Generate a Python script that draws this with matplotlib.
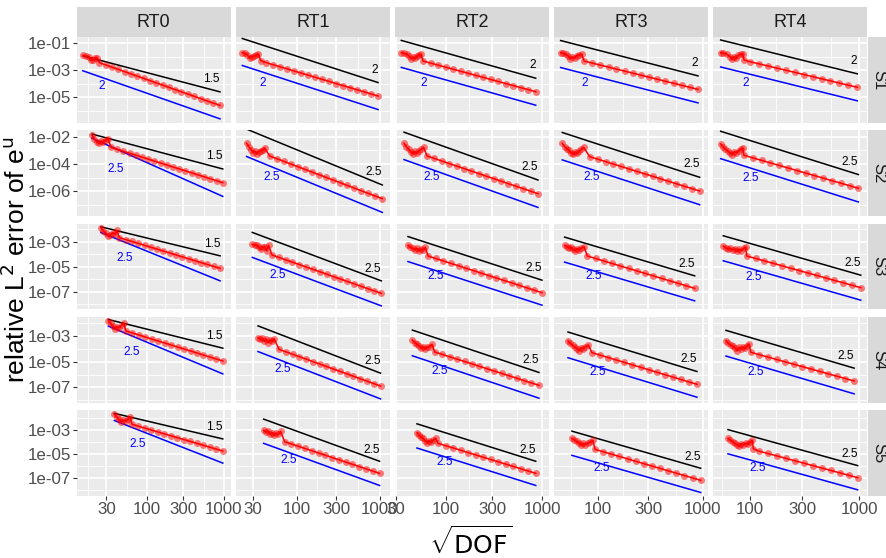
import matplotlib
matplotlib.use("Agg")
import matplotlib.pyplot as plt
import numpy as np
from matplotlib.ticker import FixedLocator, NullFormatter

plt.rcParams["font.family"] = ["Liberation Sans Narrow", "Liberation Sans", "DejaVu Sans"]
plt.rcParams["mathtext.fontset"] = "custom"
plt.rcParams["mathtext.rm"] = "Liberation Sans Narrow"
plt.rcParams["mathtext.it"] = "Liberation Sans Narrow:italic"

columns = ["RT0", "RT1", "RT2", "RT3", "RT4"]
rows = ["S1", "S2", "S3", "S4", "S5"]

# reference slopes (black line / blue line), one value per row
rate_black = {
    "RT0": [1.5, 1.5, 1.5, 1.5, 1.5],
    "RT1": [2, 2.5, 2.5, 2.5, 2.5],
    "RT2": [2, 2.5, 2.5, 2.5, 2.5],
    "RT3": [2, 2.5, 2.5, 2.5, 2.5],
    "RT4": [2, 2.5, 2.5, 2.5, 2.5],
}
rate_blue = {
    "RT0": [2, 2.5, 2.5, 2.5, 2.5],
    "RT1": [2, 2.5, 2.5, 2.5, 2.5],
    "RT2": [2, 2.5, 2.5, 2.5, 2.5],
    "RT3": [2, 2.5, 2.5, 2.5, 2.5],
    "RT4": [2, 2.5, 2.5, 2.5, 2.5],
}

# sqrt(DOF) and relative L2 error, per panel
rt0_s1_x = [14.8, 16.3, 17.6, 18.7, 19.9, 21.1, 22.6, 24.3, 29.3, 35.4, 42.8, 51.7, 62.5, 75.5,
            91.2, 110, 133, 161, 194, 235, 283, 342, 414, 500, 604, 729, 895]
rt0_s1_y = [1.22e-2, 1.09e-2, 9.2e-3, 5.2e-3, 5.5e-3, 8.2e-3, 7.7e-3, 3.5e-3, 2.39e-3, 1.63e-3,
            1.11e-3, 7.58e-4, 5.17e-4, 3.53e-4, 2.41e-4, 1.64e-4, 1.12e-4, 7.63e-5, 5.2e-5,
            3.55e-5, 2.42e-5, 1.65e-5, 1.13e-5, 7.69e-6, 5.24e-6, 3.58e-6, 2.41e-6]
rt0_s2_x = [19.5, 20.9, 22.4, 23.8, 25.5, 27.4, 29.6, 31.5, 34.4, 41.4, 49.9, 60.0, 72.3, 87.0,
            105, 126, 152, 183, 220, 265, 319, 384, 463, 557, 671, 808, 972]
rt0_s2_y = [1.24e-2, 7.06e-3, 4.03e-3, 3.23e-3, 4.52e-3, 4.03e-3, 5.65e-3, 7.06e-3, 1.64e-3,
            1.18e-3, 8.48e-4, 6.10e-4, 4.39e-4, 3.15e-4, 2.27e-4, 1.63e-4, 1.17e-4, 8.43e-5,
            6.06e-5, 4.36e-5, 3.14e-5, 2.26e-5, 1.62e-5, 1.17e-5, 8.39e-6, 6.03e-6, 4.34e-6]
rt0_s3_x = [25.5, 27.4, 29.6, 31.8, 33.7, 36.2, 38.8, 40.8, 44.2, 53.3, 64.4, 77.7, 93.8, 113,
            137, 165, 199, 240, 290, 350, 423, 510, 616, 743, 897]
rt0_s3_y = [1.33e-2, 7.18e-3, 4.67e-3, 2.86e-3, 3.44e-3, 5.28e-3, 3.88e-3, 8.1e-3, 2.10e-3,
            1.48e-3, 1.04e-3, 7.28e-4, 5.12e-4, 3.60e-4, 2.53e-4, 1.78e-4, 1.25e-4, 8.76e-5,
            6.16e-5, 4.33e-5, 3.04e-5, 2.14e-5, 1.50e-5, 1.05e-5, 7.41e-6]
rt0_s4_x = [31.8, 34.0, 36.1, 38.8, 41.1, 44.2, 47.3, 50.2, 53.8, 65.3, 79.2, 96.0, 116, 141,
            171, 208, 252, 306, 371, 450, 546, 662, 803, 974]
rt0_s4_y = [1.47e-2, 9.68e-3, 6.0e-3, 3.72e-3, 5.32e-3, 4.45e-3, 6.76e-3, 9.68e-3, 2.45e-3,
            1.71e-3, 1.20e-3, 8.36e-4, 5.84e-4, 4.08e-4, 2.85e-4, 1.99e-4, 1.39e-4, 9.72e-5,
            6.79e-5, 4.75e-5, 3.32e-5, 2.32e-5, 1.62e-5, 1.13e-5]
rt0_s5_x = [38.0, 40.8, 43.3, 46.4, 49.8, 53.8, 57.8, 60.7, 64.4, 78.2, 94.9, 115, 140, 170,
            206, 250, 304, 369, 448, 544, 660, 801, 973]
rt0_s5_y = [1.89e-2, 1.21e-2, 7.31e-3, 4.4e-3, 6.44e-3, 5.32e-3, 8.3e-3, 1.21e-2, 2.83e-3,
            1.97e-3, 1.37e-3, 9.54e-4, 6.64e-4, 4.62e-4, 3.22e-4, 2.24e-4, 1.56e-4, 1.09e-4,
            7.55e-5, 5.25e-5, 3.66e-5, 2.55e-5, 1.77e-5]

rt1_s1_x = [22.2, 23.9, 25.5, 27.2, 28.8, 30.7, 32.4, 34.6, 36.9, 43.2, 52.4, 63.6, 77.1, 93.5,
            113, 138, 167, 202, 246, 298, 361, 438, 532, 645, 782, 949]
rt1_s1_y = [1.92e-2, 1.71e-2, 1.36e-2, 7.31e-3, 9.7e-3, 1.09e-2, 1.22e-2, 1.62e-2, 4.91e-3,
            3.49e-3, 2.45e-3, 1.71e-3, 1.20e-3, 8.42e-4, 5.90e-4, 4.13e-4, 2.90e-4, 2.03e-4,
            1.42e-4, 9.97e-5, 6.99e-5, 4.90e-5, 3.43e-5, 2.41e-5, 1.69e-5, 1.18e-5]
rt1_s2_x = [25.0, 26.7, 28.5, 30.1, 31.5, 33.0, 34.9, 36.9, 39.0, 41.2, 47.3, 57.5, 69.8, 84.8,
            103, 125, 152, 185, 225, 273, 332, 403, 490, 595, 723, 878, 1067]
rt1_s2_y = [3.22e-3, 1.74e-3, 1.05e-3, 6.72e-4, 8.41e-4, 5.68e-4, 7.95e-4, 9.4e-4, 1.05e-3,
            1.47e-3, 3.84e-4, 2.45e-4, 1.57e-4, 1.00e-4, 6.39e-5, 4.08e-5, 2.61e-5, 1.67e-5,
            1.06e-5, 6.79e-6, 4.34e-6, 2.77e-6, 1.77e-6, 1.13e-6, 7.22e-7, 4.61e-7, 2.95e-7]
rt1_s3_x = [29.3, 31.3, 33.0, 34.9, 36.9, 39.0, 41.2, 43.6, 46.0, 50.5, 61.0, 73.7, 89.0, 108,
            130, 157, 190, 229, 277, 334, 404, 488, 589, 712, 860, 1039]
rt1_s3_y = [6.15e-4, 5.12e-4, 5.44e-4, 3.54e-4, 2.45e-4, 3.77e-4, 4.01e-4, 1.80e-4, 5.12e-4,
            8.63e-5, 5.55e-5, 3.57e-5, 2.29e-5, 1.48e-5, 9.49e-6, 6.10e-6, 3.92e-6, 2.52e-6,
            1.62e-6, 1.04e-6, 6.71e-7, 4.31e-7, 2.77e-7, 1.78e-7, 1.15e-7, 7.37e-8]
rt1_s4_x = [34.3, 36.6, 38.6, 40.8, 43.1, 45.2, 47.8, 50.5, 53.4, 61.3, 73.9, 89.2, 108, 130,
            156, 189, 228, 274, 331, 399, 481, 580, 700, 844, 1018]
rt1_s4_y = [7.41e-4, 5.50e-4, 6.58e-4, 3.84e-4, 5.83e-4, 3.03e-4, 4.89e-4, 3.84e-4, 6.19e-4,
            9.16e-5, 5.91e-5, 3.81e-5, 2.46e-5, 1.59e-5, 1.02e-5, 6.61e-6, 4.26e-6, 2.75e-6,
            1.78e-6, 1.15e-6, 7.39e-7, 4.77e-7, 3.08e-7, 1.98e-7, 1.28e-7]
rt1_s5_x = [40.1, 42.8, 45.6, 48.2, 50.9, 53.8, 56.9, 60.1, 64.1, 71.7, 86.5, 104, 126, 152,
            183, 221, 267, 322, 388, 468, 565, 681, 822, 991]
rt1_s5_y = [9.04e-4, 6.58e-4, 7.46e-4, 4.22e-4, 5.79e-4, 3.49e-4, 5.11e-4, 4.22e-4, 7.46e-4,
            1.04e-4, 6.76e-5, 4.40e-5, 2.86e-5, 1.86e-5, 1.21e-5, 7.86e-6, 5.11e-6, 3.32e-6,
            2.16e-6, 1.41e-6, 9.13e-7, 5.94e-7, 3.86e-7, 2.51e-7]

rt2_s1_x = [34.0, 36.3, 38.7, 40.9, 42.9, 45.0, 47.2, 49.5, 51.9, 54.5, 57.2, 68.5, 82.0, 98.2,
            118, 141, 169, 202, 242, 290, 347, 415, 498, 596, 713, 854]
rt2_s1_y = [1.92e-2, 1.71e-2, 1.53e-2, 1.09e-2, 6.9e-3, 8.67e-3, 7.31e-3, 1.09e-2, 1.36e-2,
            1.45e-2, 4.63e-3, 3.27e-3, 2.30e-3, 1.63e-3, 1.15e-3, 8.09e-4, 5.71e-4, 4.03e-4,
            2.84e-4, 2.01e-4, 1.41e-4, 9.98e-5, 7.04e-5, 4.97e-5, 3.50e-5, 2.47e-5]
rt2_s2_x = [36.3, 38.3, 40.6, 42.9, 45.0, 46.8, 49.1, 51.5, 54.5, 58.1, 63.0, 75.2, 89.8, 107,
            128, 153, 183, 218, 260, 311, 371, 443, 529, 632, 755, 901]
rt2_s2_y = [3.22e-3, 1.84e-3, 1.17e-3, 7.51e-4, 5.37e-4, 8.41e-4, 6.01e-4, 8.89e-4, 1.17e-3,
            1.64e-3, 3.84e-4, 2.52e-4, 1.65e-4, 1.08e-4, 7.09e-5, 4.65e-5, 3.05e-5, 2.00e-5,
            1.31e-5, 8.58e-6, 5.62e-6, 3.69e-6, 2.42e-6, 1.58e-6, 1.04e-6, 6.81e-7]
rt2_s3_x = [39.9, 42.2, 44.6, 47.2, 49.5, 51.9, 54.5, 57.2, 60.5, 64.5, 77.4, 92.9, 111, 134,
            160, 193, 231, 277, 333, 399, 479, 575, 690, 828, 993]
rt2_s3_y = [5.12e-4, 3.54e-4, 2.94e-4, 2.30e-4, 2.94e-4, 1.80e-4, 2.45e-4, 2.17e-4, 3.54e-4,
            7.18e-5, 4.58e-5, 2.92e-5, 1.86e-5, 1.18e-5, 7.55e-6, 4.81e-6, 3.07e-6, 1.95e-6,
            1.25e-6, 7.94e-7, 5.06e-7, 3.22e-7, 2.05e-7, 1.31e-7, 8.34e-8]
rt2_s4_x = [44.3, 46.8, 49.5, 52.4, 54.9, 57.7, 60.5, 63.4, 67.1, 71.0, 75.6, 90.4, 108, 129,
            155, 185, 221, 264, 316, 377, 451, 540, 645, 771, 922]
rt2_s4_y = [4.89e-4, 3.03e-4, 2.25e-4, 1.67e-4, 1.10e-4, 1.48e-4, 1.03e-4, 1.39e-4, 1.48e-4,
            2.25e-4, 5.69e-5, 3.72e-5, 2.43e-5, 1.58e-5, 1.04e-5, 6.76e-6, 4.41e-6, 2.88e-6,
            1.88e-6, 1.23e-6, 8.02e-7, 5.24e-7, 3.42e-7, 2.23e-7, 1.46e-7]
rt2_s5_x = [49.5, 51.9, 54.5, 57.2, 60.0, 63.0, 66.0, 69.3, 73.2, 77.5, 81.9, 98.1, 118, 141,
            169, 202, 242, 289, 347, 415, 497, 595, 713, 854]
rt2_s5_y = [5.79e-4, 3.72e-4, 2.54e-4, 1.97e-4, 1.27e-4, 8.65e-5, 1.27e-4, 9.82e-5, 1.44e-4,
            1.97e-4, 7.62e-5, 4.91e-5, 3.16e-5, 2.04e-5, 1.31e-5, 8.47e-6, 5.46e-6, 3.52e-6,
            2.27e-6, 1.46e-6, 9.41e-7, 6.06e-7, 3.91e-7, 2.52e-7]

rt3_s1_x = [44.1, 46.7, 49.6, 52.2, 54.5, 56.9, 59.9, 62.6, 65.9, 69.9, 73.6, 88.0, 105, 126,
            150, 180, 215, 257, 307, 367, 439, 524, 627, 749, 896]
rt3_s1_y = [1.92e-2, 1.71e-2, 1.45e-2, 1.09e-2, 6.9e-3, 9.17e-3, 7.73e-3, 1.15e-2, 1.36e-2,
            1.53e-2, 4.63e-3, 3.28e-3, 2.32e-3, 1.64e-3, 1.16e-3, 8.24e-4, 5.83e-4, 4.13e-4,
            2.92e-4, 2.07e-4, 1.47e-4, 1.04e-4, 7.35e-5, 5.20e-5, 3.68e-5]
rt3_s2_x = [45.7, 48.1, 50.7, 52.9, 55.3, 57.8, 60.4, 63.1, 65.9, 69.4, 73.0, 83.3, 99.0, 118,
            140, 166, 197, 234, 278, 331, 393, 466, 554, 658, 782, 929]
rt3_s2_y = [3.22e-3, 1.84e-3, 1.32e-3, 9.95e-4, 6.72e-4, 5.08e-4, 7.51e-4, 6.01e-4, 8.41e-4,
            1.17e-3, 1.64e-3, 3.43e-4, 2.27e-4, 1.50e-4, 9.96e-5, 6.60e-5, 4.37e-5, 2.89e-5,
            1.92e-5, 1.27e-5, 8.40e-6, 5.56e-6, 3.68e-6, 2.44e-6, 1.62e-6, 1.07e-6]
rt3_s3_x = [48.1, 50.7, 52.9, 55.3, 57.8, 60.4, 63.1, 65.9, 69.4, 73.6, 79.1, 94.8, 114, 136,
            163, 196, 234, 281, 337, 404, 484, 580, 695, 833]
rt3_s3_y = [5.12e-4, 4.01e-4, 3.13e-4, 3.54e-4, 2.45e-4, 1.92e-4, 2.77e-4, 2.31e-4, 3.13e-4,
            4.01e-4, 7.18e-5, 4.54e-5, 2.87e-5, 1.82e-5, 1.15e-5, 7.26e-6, 4.59e-6, 2.91e-6,
            1.84e-6, 1.16e-6, 7.35e-7, 4.65e-7, 2.94e-7, 1.86e-7]
rt3_s4_x = [51.8, 54.5, 57.4, 60.4, 63.1, 65.9, 68.9, 72.0, 75.8, 80.9, 87.7, 105, 125, 149,
            178, 213, 254, 303, 362, 432, 515, 615, 734, 876]
rt3_s4_y = [4.08e-4, 2.69e-4, 1.88e-4, 1.39e-4, 1.03e-4, 7.21e-5, 1.24e-4, 1.03e-4, 1.48e-4,
            1.99e-4, 5.04e-5, 3.26e-5, 2.11e-5, 1.36e-5, 8.79e-6, 5.68e-6, 3.67e-6, 2.37e-6,
            1.53e-6, 9.92e-7, 6.41e-7, 4.14e-7, 2.68e-7, 1.73e-7]
rt3_s5_x = [56.5, 59.5, 62.6, 65.9, 69.4, 72.5, 75.8, 79.7, 84.5, 89.6, 93.6, 112, 134, 160,
            191, 228, 273, 326, 390, 466, 556, 665, 795, 950]
rt3_s5_y = [1.97e-4, 1.44e-4, 1.11e-4, 8.11e-5, 5.20e-5, 7.62e-5, 5.92e-5, 7.62e-5, 9.82e-5,
            1.35e-4, 2.43e-5, 1.54e-5, 9.81e-6, 6.23e-6, 3.96e-6, 2.52e-6, 1.60e-6, 1.02e-6,
            6.45e-7, 4.10e-7, 2.60e-7, 1.65e-7, 1.05e-7, 6.65e-8]

rt4_s1_x = [53.5, 56.5, 60.8, 65.2, 67.9, 70.9, 73.9, 77.6, 81.6, 85.2, 87.5, 99.4, 120, 145,
            175, 212, 256, 309, 373, 450, 544, 657, 793, 958]
rt4_s1_y = [1.91e-2, 1.73e-2, 1.53e-2, 9.66e-3, 6.21e-3, 9.66e-3, 7.36e-3, 1.29e-2, 1.53e-2,
            1.53e-2, 5.51e-3, 4.12e-3, 2.86e-3, 1.99e-3, 1.38e-3, 9.61e-4, 6.68e-4, 4.64e-4,
            3.23e-4, 2.24e-4, 1.56e-4, 1.08e-4, 7.53e-5, 5.23e-5]
rt4_s2_x = [53.5, 56.2, 59.0, 62.0, 65.1, 68.4, 71.3, 74.4, 78.3, 82.2, 85.2, 87.5, 105, 127,
            153, 184, 222, 267, 321, 387, 466, 561, 676, 814, 980]
rt4_s2_y = [2.88e-3, 1.83e-3, 1.24e-3, 8.89e-4, 6.68e-4, 4.78e-4, 7.91e-4, 6.68e-4, 9.35e-4,
            1.24e-3, 1.47e-3, 4.32e-4, 2.82e-4, 1.84e-4, 1.20e-4, 7.86e-5, 5.13e-5, 3.35e-5,
            2.19e-5, 1.43e-5, 9.33e-6, 6.09e-6, 3.98e-6, 2.60e-6, 1.70e-6]
rt4_s3_x = [56.5, 59.5, 62.4, 65.5, 68.9, 72.4, 75.5, 78.8, 82.7, 87.0, 90.7, 92.7, 112, 134,
            162, 195, 234, 282, 339, 408, 491, 591, 712, 857, 1031]
rt4_s3_y = [4.53e-4, 3.31e-4, 2.61e-4, 2.96e-4, 2.17e-4, 2.61e-4, 1.80e-4, 2.47e-4, 1.91e-4,
            2.96e-4, 3.56e-4, 7.18e-5, 4.58e-5, 2.93e-5, 1.87e-5, 1.19e-5, 7.61e-6, 4.86e-6,
            3.10e-6, 1.98e-6, 1.26e-6, 8.06e-7, 5.15e-7, 3.28e-7, 2.10e-7]
rt4_s4_x = [59.8, 62.8, 66.1, 69.4, 72.4, 75.5, 78.8, 82.2, 85.7, 89.4, 93.3, 97.3, 101, 121,
            145, 174, 209, 251, 301, 361, 433, 519, 623, 747, 896]
rt4_s4_y = [4.31e-4, 2.70e-4, 2.00e-4, 1.58e-4, 1.23e-4, 7.18e-5, 1.32e-4, 9.73e-5, 1.39e-4,
            1.10e-4, 1.76e-4, 2.38e-4, 5.40e-5, 3.52e-5, 2.29e-5, 1.49e-5, 9.74e-6, 6.34e-6,
            4.13e-6, 2.69e-6, 1.76e-6, 1.14e-6, 7.45e-7, 4.86e-7, 3.16e-7]
rt4_s5_x = [62.4, 65.6, 68.9, 72.4, 76.0, 79.3, 82.8, 86.3, 90.7, 95.2, 100, 104.4, 106.6, 119,
            144, 175, 211, 255, 309, 373, 451, 546, 660, 798, 965]
rt4_s5_y = [1.97e-4, 1.44e-4, 1.05e-4, 7.62e-5, 5.92e-5, 4.31e-5, 7.15e-5, 5.55e-5, 8.13e-5,
            6.31e-5, 9.82e-5, 1.35e-4, 2.75e-5, 1.77e-5, 1.12e-5, 7.03e-6, 4.43e-6, 2.79e-6,
            1.76e-6, 1.11e-6, 7.00e-7, 4.41e-7, 2.78e-7, 1.75e-7, 1.10e-7]

panels = {
    ("RT0", "S1"): (rt0_s1_x, rt0_s1_y), ("RT0", "S2"): (rt0_s2_x, rt0_s2_y),
    ("RT0", "S3"): (rt0_s3_x, rt0_s3_y), ("RT0", "S4"): (rt0_s4_x, rt0_s4_y),
    ("RT0", "S5"): (rt0_s5_x, rt0_s5_y),
    ("RT1", "S1"): (rt1_s1_x, rt1_s1_y), ("RT1", "S2"): (rt1_s2_x, rt1_s2_y),
    ("RT1", "S3"): (rt1_s3_x, rt1_s3_y), ("RT1", "S4"): (rt1_s4_x, rt1_s4_y),
    ("RT1", "S5"): (rt1_s5_x, rt1_s5_y),
    ("RT2", "S1"): (rt2_s1_x, rt2_s1_y), ("RT2", "S2"): (rt2_s2_x, rt2_s2_y),
    ("RT2", "S3"): (rt2_s3_x, rt2_s3_y), ("RT2", "S4"): (rt2_s4_x, rt2_s4_y),
    ("RT2", "S5"): (rt2_s5_x, rt2_s5_y),
    ("RT3", "S1"): (rt3_s1_x, rt3_s1_y), ("RT3", "S2"): (rt3_s2_x, rt3_s2_y),
    ("RT3", "S3"): (rt3_s3_x, rt3_s3_y), ("RT3", "S4"): (rt3_s4_x, rt3_s4_y),
    ("RT3", "S5"): (rt3_s5_x, rt3_s5_y),
    ("RT4", "S1"): (rt4_s1_x, rt4_s1_y), ("RT4", "S2"): (rt4_s2_x, rt4_s2_y),
    ("RT4", "S3"): (rt4_s3_x, rt4_s3_y), ("RT4", "S4"): (rt4_s4_x, rt4_s4_y),
    ("RT4", "S5"): (rt4_s5_x, rt4_s5_y),
}

x_breaks = [10, 30, 100, 300, 1000]
y_break_exp = {"S1": [-1, -3, -5], "S2": [-2, -4, -6], "S3": [-3, -5, -7],
               "S4": [-3, -5, -7], "S5": [-3, -5, -7]}

# ---- layout (pixels of the 887x558 canvas) ----
W, H = 887, 558
col_left = [77, 236.1, 395.2, 554.3, 713.4]
pw = 153.6
row_top = [36.7, 130.1, 223.5, 316.9, 410.3]
ph = 85.9
xlim_log = [(1.0948, 3.0896), (1.2716, 3.1178), (1.4677, 3.0677), (1.5838, 3.0467), (1.6615, 3.0706)]
ylim_log = [(-6.896, -0.533), (-7.796, -1.526), (-8.416, -1.544), (-8.198, -1.514), (-8.488, -1.388)]


def frect(x0, y0, x1, y1):
    return [x0 / W, 1 - y1 / H, (x1 - x0) / W, (y1 - y0) / H]


fig = plt.figure(figsize=(W / 100, H / 100), dpi=100)

PANEL_BG = "#EBEBEB"
STRIP_BG = "#D9D9D9"
TICK_COL = "#4D4D4D"

for ci, col in enumerate(columns):
    for ri, row in enumerate(rows):
        x0, y0 = col_left[ci], row_top[ri]
        ax = fig.add_axes(frect(x0, y0, x0 + pw, y0 + ph))
        ax.set_facecolor(PANEL_BG)
        ax.set_xscale("log")
        ax.set_yscale("log")
        xl, yl = xlim_log[ci], ylim_log[ri]
        ax.set_xlim(10 ** xl[0], 10 ** xl[1])
        ax.set_ylim(10 ** yl[0], 10 ** yl[1])
        for s in ax.spines.values():
            s.set_visible(False)

        # breaks and ggplot-style minor breaks (midway in log space)
        xb = [b for b in x_breaks if xl[0] <= np.log10(b) <= xl[1]]
        xmin_b = [10 ** ((np.log10(a) + np.log10(b)) / 2) for a, b in zip(x_breaks[:-1], x_breaks[1:])]
        xmin_b = [b for b in xmin_b if xl[0] <= np.log10(b) <= xl[1]]
        ye = y_break_exp[row]
        yb = [10.0 ** e for e in ye]
        ymin_e = sorted(set([e - 1 for e in ye] + [e + 1 for e in ye]) - set(ye))
        ymin_b = [10.0 ** e for e in ymin_e if yl[0] <= e <= yl[1]]

        ax.xaxis.set_major_locator(FixedLocator(xb))
        ax.xaxis.set_minor_locator(FixedLocator(xmin_b))
        ax.yaxis.set_major_locator(FixedLocator(yb))
        ax.yaxis.set_minor_locator(FixedLocator(ymin_b))
        ax.xaxis.set_minor_formatter(NullFormatter())
        ax.yaxis.set_minor_formatter(NullFormatter())
        ax.set_xticklabels([f"{b:g}" for b in xb])
        ax.set_yticklabels([f"1e-{abs(e):02d}" for e in ye])
        ax.grid(which="major", color="white", linewidth=1.25, zorder=0)
        ax.grid(which="minor", color="white", linewidth=0.6, zorder=0)
        ax.set_axisbelow(True)
        ax.tick_params(which="minor", length=0)
        ax.tick_params(which="major", length=2.8, width=0.8, color="#333333",
                       labelsize=12.2, labelcolor=TICK_COL, pad=1.5)
        if ci != 0:
            ax.tick_params(axis="y", which="major", length=0, labelleft=False)
        if ri != len(rows) - 1:
            ax.tick_params(axis="x", which="major", length=0, labelbottom=False)

        xs, ys = panels[(col, row)]
        ax.plot(xs, ys, color="#FF0000", linewidth=1.1, zorder=3)
        ax.scatter(xs, ys, s=25, color="#FF0000", alpha=0.5, linewidths=0, zorder=4)

        # reference slope lines anchored on the last point
        xf, xlst, yf, ylst = xs[0], xs[-1], ys[0], ys[-1]
        rb, rl = rate_black[col][ri], rate_blue[col][ri]
        ends = np.array([xf, xlst])
        ax.plot(ends, 10 * ylst * (ends / xlst) ** (-rb), color="black", linewidth=1.1, zorder=2)
        ax.plot(ends, 0.1 * ylst * (ends / xlst) ** (-rl), color="#0000FF", linewidth=1.1, zorder=2)
        ax.text(xlst, ylst * 10 ** 1.95, f"{rb:g}", ha="right", va="center",
                fontsize=8.6, color="black", zorder=5)
        k = 2.25 if rl == 2 else 2.45
        ax.text(xf * 10 ** 0.2, yf * 10 ** (-k), f"{rl:g}", ha="left", va="center",
                fontsize=8.6, color="#0000FF", zorder=5)

# strips
for ci, col in enumerate(columns):
    x0 = col_left[ci]
    sax = fig.add_axes(frect(x0, 6.9, x0 + pw, 36.6))
    sax.set_facecolor(STRIP_BG)
    sax.set_xticks([]); sax.set_yticks([])
    for s in sax.spines.values():
        s.set_visible(False)
    sax.text(0.5, 0.48, col, ha="center", va="center", fontsize=13, color="#1A1A1A",
             transform=sax.transAxes)

for ri, row in enumerate(rows):
    y0 = row_top[ri]
    sax = fig.add_axes(frect(868.5, y0, 893, y0 + ph))
    sax.set_facecolor(STRIP_BG)
    sax.set_xticks([]); sax.set_yticks([])
    for s in sax.spines.values():
        s.set_visible(False)
    sax.text(0.42, 0.5, row, ha="center", va="center", fontsize=12, color="#1A1A1A",
             rotation=-90, family=["Liberation Sans", "DejaVu Sans"], transform=sax.transAxes)

# axis titles
fig.text(15.5 / W, 1 - 260 / H, r"relative L$^{\mathrm{2}}$ error of e$^{\mathrm{u}}$",
         rotation=90, ha="center", va="center", fontsize=19,
         family=["Liberation Sans", "DejaVu Sans"], color="black")
fig.text(471 / W, 1 - 543 / H, r"$\sqrt{\mathrm{DOF}}$", ha="center", va="center",
         fontsize=18, color="black")

fig.savefig("out.png", dpi=100)
